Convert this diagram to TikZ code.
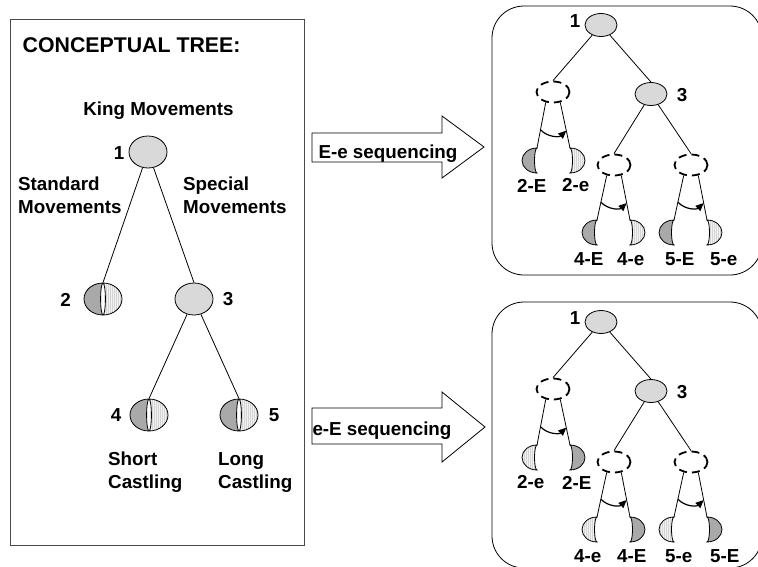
\documentclass[tikz,border=0pt]{standalone}
\usepackage{fontspec}
\setmainfont{Liberation Sans}
\usetikzlibrary{shapes.geometric,arrows.meta,patterns.meta}

\definecolor{nodegray}{HTML}{D9D9D9}
\definecolor{darkhalf}{HTML}{A9A9A9}
\definecolor{lighthalf}{HTML}{F2F2F2}
\definecolor{stripe}{HTML}{D4D4D4}
\definecolor{framegray}{HTML}{4A4A4A}

\tikzset{
  lbl/.style={font=\fontsize{18.8}{22}\bfseries\selectfont, inner sep=0pt},
  solidnode/.style={ellipse, draw, line width=0.8pt, fill=nodegray, inner sep=0pt},
  bignode/.style={minimum width=38pt, minimum height=32pt},
  smallnode/.style={minimum width=32pt, minimum height=23pt},
  dashnode/.style={ellipse, draw, line width=1.8pt, dash pattern=on 8pt off 5pt,
    minimum width=33pt, minimum height=21pt, inner sep=0pt},
  lightfill/.style={preaction={fill=lighthalf},
    pattern={Lines[angle=90,distance=2pt,line width=0.3pt]}, pattern color=stripe},
  darkpiece/.style={fill=darkhalf, draw, line width=0.8pt},
  lightpiece/.style={lightfill, draw, line width=0.8pt},
  branch/.style={line width=0.8pt},
  swing/.style={line width=1.2pt, -{Triangle[length=8pt,width=7pt]}},
  blockarrow/.style={draw, line width=0.8pt},
  splitnode/.style={ellipse, draw, line width=0.8pt, minimum width=38pt,
    minimum height=32pt, inner sep=0pt,
    path picture={
      \fill[darkhalf] (path picture bounding box.north west) rectangle (path picture bounding box.south);
      \path[lightfill] (path picture bounding box.north) rectangle (path picture bounding box.south east);
      \draw[fill=white, line width=0.8pt] (path picture bounding box.center) ellipse [x radius=2.4pt, y radius=16pt];
    }},
}

% half of a split node, hanging from the top of its inner edge
\newcommand{\leftleaf}[2]{%
  \draw[#1] (#2) arc[start angle=90, end angle=270, x radius=15pt, y radius=12.5pt]
    arc[start angle=270, end angle=90, x radius=2.5pt, y radius=12.5pt] -- cycle;}
\newcommand{\rightleaf}[2]{%
  \draw[#1] (#2) arc[start angle=90, end angle=-90, x radius=15pt, y radius=12.5pt]
    arc[start angle=-90, end angle=90, x radius=2.5pt, y radius=12.5pt] -- cycle;}

% one sequenced tree: #1 name prefix, #2/#3 left/right leaf styles, #4/#5 left/right letters
\newcommand{\seqtree}[5]{%
  \node[solidnode, smallnode] (#1r1) at (601,25) {};
  \node[lbl] (#1n1) at (575,21) {1};
  \node[dashnode] (#1d2) at (553,92) {};
  \node[solidnode, smallnode] (#1r3) at (651,94) {};
  \node[lbl] (#1n3) at (682,95) {3};
  \node[dashnode] (#1d4) at (614,165) {};
  \node[dashnode] (#1d5) at (691,165) {};
  \coordinate (#1a2) at (537,148); \coordinate (#1b2) at (570,148);
  \coordinate (#1a4) at (597,220); \coordinate (#1b4) at (630,220);
  \coordinate (#1a5) at (674,220); \coordinate (#1b5) at (707,220);
  \leftleaf{#2}{#1a2} \rightleaf{#3}{#1b2}
  \leftleaf{#2}{#1a4} \rightleaf{#3}{#1b4}
  \leftleaf{#2}{#1a5} \rightleaf{#3}{#1b5}
  \draw[branch] (#1r1) -- (#1d2.north);
  \draw[branch] (#1r1) -- (#1r3.north);
  \draw[branch] (#1r3) -- (#1d4.north);
  \draw[branch] (#1r3) -- (#1d5.north);
  \foreach \k in {2,4,5} {
    \draw[branch] (#1d\k.235) -- (#1a\k);
    \draw[branch] (#1d\k.305) -- (#1b\k);
    \path (#1d\k.235) -- (#1a\k) coordinate[pos=0.6] (#1s\k);
    \path (#1d\k.305) -- (#1b\k) coordinate[pos=0.62] (#1t\k);
    \draw[swing] (#1s\k) to[bend right=45] (#1t\k);
  }
  \node[lbl, anchor=west] (#1x2) at (517,185.5) {2-#4};
  \node[lbl, anchor=west] (#1y2) at (562,185.5) {2-#5};
  \node[lbl, anchor=west] (#1x4) at (574,259) {4-#4};
  \node[lbl, anchor=west] (#1y4) at (617,259) {4-#5};
  \node[lbl, anchor=west] (#1x5) at (665,259) {5-#4};
  \node[lbl, anchor=west] (#1y5) at (710,259) {5-#5};
}

\begin{document}
\begin{tikzpicture}[x=1pt, y=-1pt]
\useasboundingbox (0,0) rectangle (758,566);
\clip (0,0) rectangle (758,566);
\fill[white] (0,0) rectangle (758,566);

% conceptual tree panel
\draw[framegray, line width=1pt] (10,19) rectangle (304,545);
\node[anchor=base west, inner sep=0pt, font=\fontsize{21.3}{25}\bfseries\selectfont] (title) at (22.5,52.7) {CONCEPTUAL TREE:};
\node[lbl, anchor=base] (king) at (158.5,115) {King Movements};

\node[solidnode, bignode] (n1) at (148,152) {};
\node[lbl] (t1) at (119,153) {1};
\node[splitnode] (n2) at (103,299) {};
\node[lbl] (t2) at (65.5,300) {2};
\node[solidnode, bignode] (n3) at (194,299) {};
\node[lbl] (t3) at (228,299.5) {3};
\node[splitnode] (n4) at (149,415) {};
\node[lbl] (t4) at (116,415.5) {4};
\node[splitnode] (n5) at (239,415) {};
\node[lbl] (t5) at (274,415.5) {5};

\draw[branch] (n1) -- (n2.north);
\draw[branch] (n1) -- (n3.north);
\draw[branch] (n3) -- (n4.north);
\draw[branch] (n3) -- (n5.north);

\node[lbl, anchor=base west] (std1) at (18,190) {Standard};
\node[lbl, anchor=base west] (std2) at (18,213.3) {Movements};
\node[lbl, anchor=base west] (spc1) at (183,190) {Special};
\node[lbl, anchor=base west] (spc2) at (183,213.3) {Movements};
\node[lbl, anchor=base west] (sc1) at (108,465) {Short};
\node[lbl, anchor=base west] (sc2) at (108,488) {Castling};
\node[lbl, anchor=base west] (lc1) at (218,465) {Long};
\node[lbl, anchor=base west] (lc2) at (218,488) {Castling};

% block arrows
\draw[blockarrow] (312,133) -- (442,133) -- (442,116) -- (484,147) -- (442,178) -- (442,162) -- (312,162) -- cycle;
\node[lbl, anchor=base] (seqA) at (388,158.3) {E-e sequencing};
\draw[blockarrow] (312,408) -- (442,408) -- (442,392) -- (485,427) -- (442,462) -- (442,444) -- (312,444) -- cycle;
\node[lbl, anchor=base] (seqB) at (382,435) {e-E sequencing};

% sequenced trees
\draw[line width=0.8pt, rounded corners=32pt] (492,6) rectangle (762,275);
\seqtree{u}{darkpiece}{lightpiece}{E}{e}
\draw[line width=0.8pt, rounded corners=32pt] (492,302) rectangle (762,568);
\begin{scope}[shift={(0,297)}]
\seqtree{w}{lightpiece}{darkpiece}{e}{E}
\end{scope}
\end{tikzpicture}
\end{document}
